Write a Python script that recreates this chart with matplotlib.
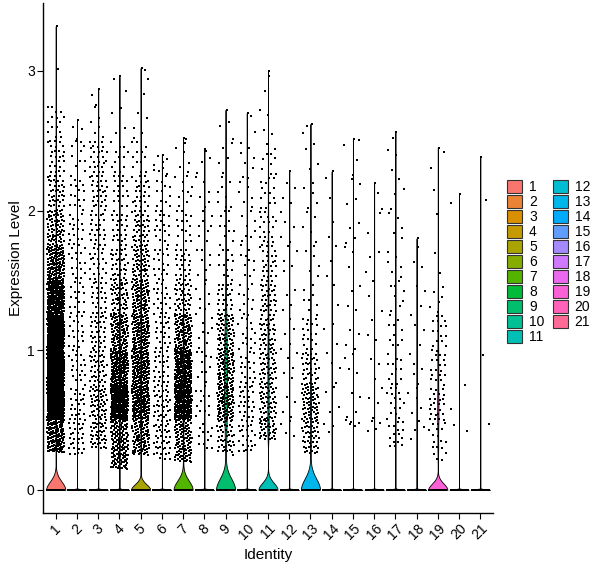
import numpy as np
import matplotlib.pyplot as plt
from matplotlib.patches import Patch

plt.rcParams['font.family'] = ['Liberation Sans', 'DejaVu Sans']

clusters = [str(i) for i in range(1, 22)]

# upper edges of the value bins; first bin starts at each cluster's lowest non-zero value
bin_tops = [0.5, 0.75, 1.0, 1.25, 1.5, 1.75, 2.0, 2.25, 2.5, 2.75, 3.0, 3.25]

lowest = [0.27, 0.25, 0.30, 0.15, 0.25, 0.22, 0.20, 0.30, 0.25, 0.25, 0.35,
          0.30, 0.25, 0.40, 0.45, 0.40, 0.30, 0.35, 0.20, 0.40, 0.45]
max_vals = [3.32, 2.65, 2.87, 2.96, 3.02, 2.40, 2.52, 2.44, 2.72, 2.70, 3.00,
            2.28, 2.62, 2.28, 2.51, 2.20, 2.56, 1.80, 2.45, 2.12, 2.38]
# number of cells per bin (non-zero expression)
counts = [
    [130, 330, 340, 300, 220, 130, 70, 40, 25, 15, 0, 1],
    [28, 24, 20, 18, 16, 16, 18, 16, 10, 3, 0, 0],
    [40, 55, 40, 32, 25, 22, 25, 30, 25, 6, 2, 0],
    [150, 250, 180, 100, 55, 35, 25, 18, 12, 4, 2, 0],
    [90, 170, 150, 120, 90, 60, 40, 25, 12, 5, 2, 1],
    [40, 36, 25, 22, 20, 18, 18, 12, 8, 0, 0, 0],
    [110, 230, 190, 100, 45, 25, 15, 10, 6, 1, 0, 0],
    [12, 12, 10, 8, 8, 8, 8, 6, 4, 0, 0, 0],
    [45, 90, 80, 60, 28, 14, 10, 8, 5, 3, 0, 0],
    [25, 25, 18, 15, 12, 10, 8, 8, 6, 2, 0, 0],
    [35, 50, 45, 40, 35, 25, 18, 14, 10, 4, 2, 0],
    [4, 4, 5, 5, 4, 5, 5, 4, 0, 0, 0, 0],
    [45, 60, 35, 18, 8, 6, 5, 5, 4, 2, 0, 0],
    [3, 4, 4, 3, 2, 3, 2, 2, 0, 0, 0, 0],
    [5, 4, 4, 4, 4, 3, 4, 4, 3, 1, 0, 0],
    [4, 4, 3, 3, 3, 3, 2, 2, 0, 0, 0, 0],
    [15, 15, 12, 10, 8, 6, 5, 4, 3, 1, 0, 0],
    [4, 5, 5, 4, 3, 3, 0, 0, 0, 0, 0, 0],
    [18, 25, 20, 15, 6, 2, 1, 1, 2, 0, 0, 0],
    [2, 1, 1, 0, 0, 0, 0, 1, 0, 0, 0, 0],
    [1, 0, 1, 0, 0, 0, 0, 1, 0, 0, 0, 0],
]
n_zero = [4000, 3000, 2500, 3500, 1800, 2500, 2000, 1500, 450, 1500, 400,
          800, 800, 600, 600, 600, 800, 500, 180, 300, 300]
# violin bandwidth (expression units)
bw = [0.06, 0.004, 0.004, 0.004, 0.04, 0.004, 0.065, 0.004, 0.08, 0.004, 0.05,
      0.004, 0.08, 0.004, 0.004, 0.004, 0.004, 0.004, 0.045, 0.004, 0.004]


def hue_colors(n):
    # ggplot2 default hue palette (hcl, c=100, l=65)
    out = []
    L, C = 65.0, 100.0
    Xn, Yn, Zn = 95.047, 100.0, 108.883
    un = 4 * Xn / (Xn + 15 * Yn + 3 * Zn)
    vn = 9 * Yn / (Xn + 15 * Yn + 3 * Zn)
    for k in range(n):
        h = np.deg2rad(15 + k * 360.0 / n)
        u, v = C * np.cos(h), C * np.sin(h)
        Y = Yn * ((L + 16) / 116) ** 3
        up, vp = u / (13 * L) + un, v / (13 * L) + vn
        X = Y * 9 * up / (4 * vp)
        Z = Y * (12 - 3 * up - 20 * vp) / (4 * vp)
        xyz = np.array([X, Y, Z]) / 100
        M = np.array([[3.2406, -1.5372, -0.4986],
                      [-0.9689, 1.8758, 0.0415],
                      [0.0557, -0.2040, 1.0570]])
        rgb = M @ xyz
        rgb = np.where(rgb <= 0.0031308, 12.92 * rgb, 1.055 * np.abs(rgb) ** (1 / 2.4) - 0.055)
        out.append(tuple(np.clip(rgb, 0, 1)))
    return out


colors = hue_colors(21)

fig = plt.figure(figsize=(6, 5.68), dpi=100)
ax = fig.add_axes([43 / 600, 1 - 513 / 568, 450 / 600, 510 / 568])

a1, a2 = 0.7548776662466927, 0.5698402909980532
px, py = [], []
for i in range(21):
    pos = i + 1
    vals = [np.zeros(n_zero[i])]
    j = np.arange(n_zero[i])
    px.append(pos + ((0.5 + j * 0.618034) % 1) * 0.8 - 0.4)
    py.append(np.zeros(n_zero[i]))
    for k, n in enumerate(counts[i]):
        if n == 0:
            continue
        lo = lowest[i] if k == 0 else bin_tops[k - 1]
        hi = min(bin_tops[k], max_vals[i])
        j = np.arange(n) + 17 * k + 5 * i
        y = lo + (hi - lo) * ((0.5 + j * a2) % 1)
        vals.append(y)
        px.append(pos + ((0.5 + j * a1) % 1) * 0.8 - 0.4)
        py.append(y)
    vals.append([max_vals[i]])
    px.append([pos + 0.05])
    py.append([max_vals[i]])
    vals = np.concatenate(vals)

    parts = ax.violinplot([vals], positions=[pos], widths=0.9, showextrema=False,
                          points=800, bw_method=bw[i] / np.std(vals, ddof=1))
    for b in parts['bodies']:
        b.set_facecolor(colors[i])
        b.set_edgecolor('black')
        b.set_linewidth(0.6)
        b.set_alpha(1)
        b.set_zorder(2)

ax.scatter(np.concatenate(px), np.concatenate(py), s=3.2, marker='s', c='black',
           linewidths=0, zorder=3)

ax.set_xlim(0.4, 21.6)
ax.set_ylim(-0.166, 3.486)
ax.set_xticks(range(1, 22))
ax.set_xticklabels(clusters, rotation=45, ha='center', fontsize=10)
ax.set_yticks([0, 1, 2, 3])
ax.set_yticklabels(['0', '1', '2', '3'], fontsize=10)
ax.tick_params(length=4, width=0.8, color='black', pad=2)
for s in ['top', 'right']:
    ax.spines[s].set_visible(False)
for s in ['left', 'bottom']:
    ax.spines[s].set_linewidth(1)
ax.set_xlabel('Identity', fontsize=11, labelpad=4)
ax.set_ylabel('Expression Level', fontsize=11, labelpad=3)

handles = [Patch(facecolor=colors[i], edgecolor='#333333', linewidth=0.8, label=clusters[i])
           for i in range(21)]
fig.legend(handles=handles, loc='center left', bbox_to_anchor=(507 / 600, 1 - 262 / 568),
           ncol=2, frameon=False, fontsize=10, handlelength=1.08, handleheight=1.08,
           labelspacing=0.05, handletextpad=0.5, columnspacing=0.6, borderpad=0,
           borderaxespad=0)

fig.savefig('out.png', dpi=100)
